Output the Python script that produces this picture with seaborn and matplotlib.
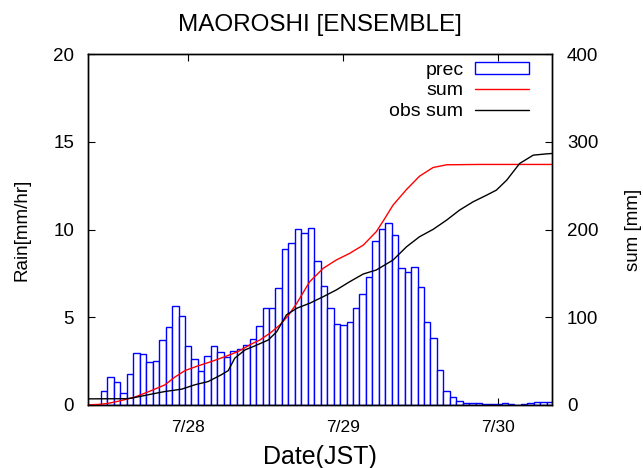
import matplotlib
matplotlib.use("Agg")
import matplotlib.pyplot as plt
import seaborn as sns
from matplotlib.patches import Patch
from matplotlib.lines import Line2D

# hourly bins, hour 0 = 7/27 09:00 JST
hours = list(range(72))
prec = [0.00, 0.00, 0.80, 1.61, 1.31, 0.66, 1.75, 2.94, 2.92, 2.43,
        2.49, 3.70, 4.44, 5.66, 5.07, 3.34, 2.64, 1.92, 2.81, 3.38,
        3.00, 2.70, 3.06, 3.17, 3.40, 3.78, 4.50, 5.55, 5.53, 6.67,
        8.87, 9.25, 10.05, 9.78, 10.07, 8.22, 6.78, 5.55, 4.60, 4.54,
        4.71, 5.53, 6.31, 7.29, 9.34, 10.01, 10.35, 9.67, 7.83, 7.58,
        7.88, 6.74, 4.75, 3.80, 1.99, 0.80, 0.44, 0.23, 0.13, 0.10,
        0.08, 0.05, 0.03, 0.02, 0.08, 0.02, 0.01, 0.02, 0.10, 0.15,
        0.15, 0.15]

sum_x = [-0.5, 1.0, 2.5, 4.0, 6.7, 9.3, 11.4, 12.9, 14.5, 16.5, 18.6,
         20.7, 22.7, 24.8, 26.1, 27.7, 29.2, 30.5, 31.8, 33.8, 35.9,
         37.9, 40.0, 42.1, 44.1, 45.2, 46.7, 48.8, 50.8, 52.9, 55.0,
         60.0, 71.3]
sum_y = [0.0, 0.4, 1.5, 3.8, 8.7, 16.3, 22.8, 31.5, 39.1, 44.4, 49.4,
         55.0, 60.7, 69.5, 74.0, 82.0, 91.2, 102.0, 115.9, 140.5, 155.8,
         165.2, 172.9, 182.3, 197.5, 210.0, 227.9, 245.8, 260.9, 270.8,
         273.9, 274.3, 274.3]

obs_x = [-0.5, 5.5, 6.2, 9.3, 11.4, 14.0, 16.0, 18.1, 20.1, 21.2, 22.2,
         23.8, 25.3, 27.4, 28.7, 30.2, 31.8, 33.8, 35.9, 37.9, 40.0,
         42.1, 44.1, 46.7, 48.8, 50.8, 52.9, 55.0, 57.0, 59.1, 61.2,
         62.7, 64.3, 66.3, 68.4, 70.5, 71.3]
obs_y = [6.8, 7.0, 7.6, 12.2, 15.2, 17.9, 22.8, 26.6, 34.2, 39.1, 53.2,
         62.7, 67.2, 74.0, 83.5, 102.6, 110.2, 115.9, 123.4, 131.0, 140.5,
         149.3, 153.8, 165.2, 180.4, 191.8, 200.2, 210.8, 222.2, 231.7,
         239.3, 245.0, 256.4, 275.4, 284.9, 286.4, 286.8]

day_ticks = [15, 39, 63]
day_labels = ["7/28", "7/29", "7/30"]

sns.set_style("ticks")
plt.rcParams['font.family'] = ['Liberation Sans', 'DejaVu Sans']
plt.rcParams['xtick.direction'] = 'in'
plt.rcParams['ytick.direction'] = 'in'
for key in ['text.color', 'axes.labelcolor', 'xtick.color', 'ytick.color']:
    plt.rcParams[key] = 'black'

fig = plt.figure(figsize=(6.43, 4.68), dpi=100)
ax = fig.add_axes([0.137, 0.135, 0.721, 0.749])

sns.barplot(x=hours, y=prec, native_scale=True, width=1.0, color='white',
            edgecolor='#0000ff', linewidth=1.0, saturation=1, errorbar=None,
            ax=ax)
ax.set_xlim(-0.5, 71.26)
ax.set_ylim(0, 20)
ax.set_yticks([0, 5, 10, 15, 20])
ax.set_xticks(day_ticks)
ax.set_xticklabels(day_labels, fontsize=12.5)
ax.tick_params(axis='y', labelsize=13.5, length=5, right=False, pad=10)
ax.tick_params(axis='x', top=True, length=5, pad=11)
ax.set_xlabel("Date(JST)", fontsize=18, labelpad=7)
ax.set_ylabel("Rain[mm/hr]", fontsize=13.5, labelpad=16)
ax.set_title("MAOROSHI [ENSEMBLE]", fontsize=17.5, pad=17)

ax2 = ax.twinx()
sns.lineplot(x=sum_x, y=sum_y, ax=ax2, color='#ff0000', linewidth=1.0, sort=False)
sns.lineplot(x=obs_x, y=obs_y, ax=ax2, color='black', linewidth=1.0, sort=False)
ax2.set_ylim(0, 400)
ax2.set_yticks([0, 100, 200, 300, 400])
ax2.tick_params(axis='y', labelsize=13.5, length=5, pad=11)
ax2.set_ylabel("sum [mm]", fontsize=13.5, labelpad=19)

for a in (ax, ax2):
    for s in a.spines.values():
        s.set_linewidth(1.0)
        s.set_color('black')

handles = [Patch(facecolor='white', edgecolor='#0000ff', linewidth=1.0),
           Line2D([], [], color='#ff0000', linewidth=1.0),
           Line2D([], [], color='black', linewidth=1.0)]
ax2.legend(handles, ["prec", "sum", "obs sum"], loc='upper right',
           bbox_to_anchor=(0.952, 0.978), frameon=False, fontsize=14,
           markerfirst=False, handlelength=2.8, handleheight=0.55,
           handletextpad=0.6, labelspacing=0.18, borderpad=0, borderaxespad=0)

fig.savefig("out.png", dpi=100)
